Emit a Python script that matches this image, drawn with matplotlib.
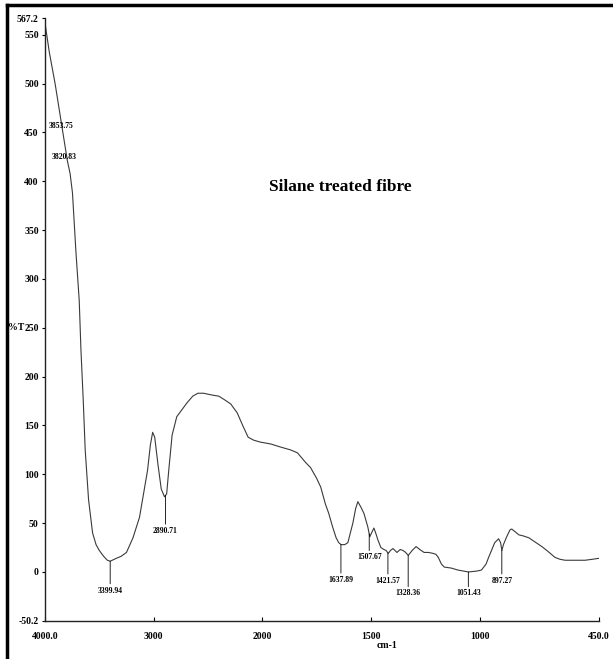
import numpy as np
import matplotlib
matplotlib.use("Agg")
import matplotlib.pyplot as plt
from matplotlib.lines import Line2D

# ---------------- data ----------------
wavenumber = [4000, 3960, 3907, 3843, 3794, 3769, 3747, 3716, 3685, 3669, 3648, 3630,
              3599, 3562, 3530, 3500, 3460, 3426, 3400, 3343, 3300, 3250, 3190, 3130,
              3056, 3030, 3009, 2990,
              2960, 2930, 2900, 2880, 2860, 2830, 2787, 2740, 2694, 2640, 2593, 2540,
              2500, 2454, 2400, 2343, 2290, 2231, 2180, 2130, 2080, 2019, 1960, 1917,
              1870, 1838, 1800, 1778, 1750, 1731, 1710, 1694, 1676, 1660, 1648, 1637,
              1620, 1606, 1583, 1570, 1560, 1545, 1532, 1514, 1505, 1497, 1486, 1475,
              1468, 1454, 1440, 1430, 1420, 1410, 1398, 1380, 1365, 1352, 1340, 1328,
              1310, 1292, 1275, 1255, 1235, 1213, 1200, 1190, 1175, 1162, 1130, 1100,
              1051, 1010, 991, 970, 958, 945, 930, 912, 903, 897, 890, 875, 860, 852,
              835, 819, 800, 773, 740, 713, 690, 653, 630, 606, 560, 514, 480, 450]
transmittance = [562, 532, 500, 455, 421, 408, 388, 329, 278, 227, 176, 125,
                 74, 40, 28, 22, 16, 12, 11, 14, 16, 20, 35, 56,
                 104, 130, 143, 138,
                 110, 85, 77, 80, 105, 140, 159, 166, 173, 180, 183, 183,
                 182, 181, 180, 176, 172, 163, 150, 138, 135, 133, 131, 128,
                 125, 122, 112, 107, 96, 87, 70, 60, 46, 35, 30, 28,
                 28, 30, 50, 65, 72, 66, 60, 46, 36, 40, 45, 38,
                 33, 25, 23, 22, 19, 22, 24, 20, 23, 22, 20, 17,
                 22, 26, 23, 20, 20, 19, 18, 15, 8, 5, 4, 2,
                 0, 1, 2, 8, 15, 22, 30, 34, 30, 22, 28, 36, 43, 44,
                 41, 38, 37, 35, 30, 26, 22, 15, 13, 12, 12, 12, 13, 14]

peak_wn = [3399.94, 2890.71, 1637.89, 1507.67, 1421.57, 1328.36, 1051.43, 897.27]
peak_label_y = [-19, 42, -8, 15, -9, -22, -22, -9]

free_label_wn = [3853.75, 3820.83]
free_label_y = [457, 425]

y_ticks = [-50.2, 0, 50, 100, 150, 200, 250, 300, 350, 400, 450, 500, 550, 567.2]
y_ticklabels = ["-50.2", "0", "50", "100", "150", "200", "250", "300", "350",
                "400", "450", "500", "550", "567.2"]
x_ticks = [4000, 3000, 2000, 1500, 1000, 450]
x_ticklabels = ["4000.0", "3000", "2000", "1500", "1000", "450.0"]

title_text = "Silane treated fibre"
x_label = "cm-1"
y_label = "%T"

# ---------------- figure ----------------
W, H = 613, 659
fig = plt.figure(figsize=(W / 100, H / 100), dpi=100)
serif = "Liberation Serif"

ax = fig.add_axes([45 / W, 1 - 621 / H, (599 - 45) / W, (621 - 18) / H])


def fwd(x):
    x = np.asarray(x, dtype=float)
    return np.where(x >= 2000, x, 2 * x - 2000)


def inv(u):
    u = np.asarray(u, dtype=float)
    return np.where(u >= 2000, u, (u + 2000) / 2)


ax.set_xscale("function", functions=(fwd, inv))
ax.plot(wavenumber, transmittance, color="#3a3a3a", lw=0.8)
ax.set_xlim(4000, 450)
ax.set_ylim(-50.2, 567.2)

for s in ("top", "right"):
    ax.spines[s].set_visible(False)
for s in ("left", "bottom"):
    ax.spines[s].set_linewidth(1.0)
    ax.spines[s].set_color("#222222")

ax.set_yticks(y_ticks)
ax.set_yticklabels(y_ticklabels, fontfamily=serif, fontweight="bold", fontsize=7)
ax.set_xticks(x_ticks)
ax.set_xticklabels(x_ticklabels, fontfamily=serif, fontweight="bold", fontsize=7)
ax.xaxis.set_minor_locator(matplotlib.ticker.NullLocator())
ax.tick_params(axis="y", direction="out", length=2.5, width=0.8, pad=2)
ax.tick_params(axis="x", direction="in", length=3, width=0.8, pad=8)

wn_asc = np.array(wavenumber[::-1], dtype=float)
tr_asc = np.array(transmittance[::-1], dtype=float)
for wn, ly in zip(peak_wn, peak_label_y):
    y0 = float(np.interp(wn, wn_asc, tr_asc))
    ax.annotate(f"{wn:.2f}", xy=(wn, y0), xytext=(wn, ly), ha="center", va="center",
                fontsize=5.5, fontfamily=serif, fontweight="bold",
                arrowprops=dict(arrowstyle="-", lw=0.6, color="black",
                                shrinkA=0, shrinkB=0))
for wn, ly in zip(free_label_wn, free_label_y):
    ax.text(wn, ly, f"{wn:.2f}", ha="center", va="center", fontsize=5.5,
            fontfamily=serif, fontweight="bold")

fig.text(340 / W, 1 - 187 / H, title_text, ha="center", va="center",
         fontsize=12.5, fontfamily=serif, fontweight="bold")
fig.text(387 / W, 1 - 645 / H, x_label, ha="center", va="center",
         fontsize=7, fontfamily=serif, fontweight="bold")
fig.text(16 / W, 1 - 327 / H, y_label, ha="center", va="center",
         fontsize=7, fontfamily=serif, fontweight="bold")

# outer frame (top and left edges)
fig.add_artist(Line2D([7 / W, 7 / W], [0, 1 - 5 / H], transform=fig.transFigure,
                      color="black", lw=2.5))
fig.add_artist(Line2D([7 / W, 1], [1 - 5 / H, 1 - 5 / H], transform=fig.transFigure,
                      color="black", lw=2.5))

fig.savefig("out.png", dpi=100, facecolor="white")
